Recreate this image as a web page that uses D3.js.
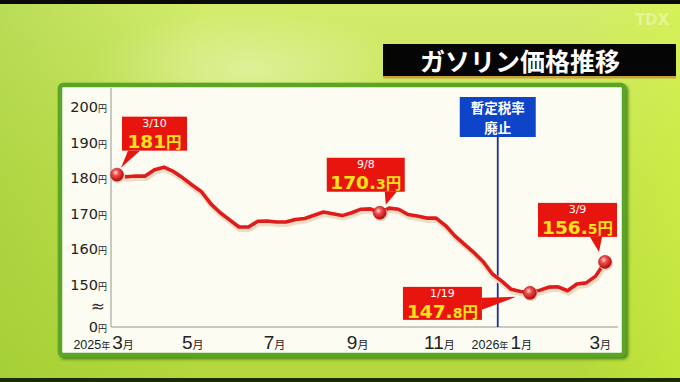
<!DOCTYPE html>
<html>
<head>
<meta charset="utf-8">
<script src="https://cdn.jsdelivr.net/npm/d3@7"></script>
<style>
  html, body { margin: 0; padding: 0; background: #000; }
  svg { display: block; }
</style>
</head>
<body>
<div id="chart"></div>
<script>
// weekly gasoline price (yen / litre)
const startDate = new Date(2025, 2, 10);
const endDate = new Date(2026, 2, 9);
const weekValues = [
  181, 180.4, 180.6, 180.6, 182.4, 183.1, 181.9, 180.1, 178.1, 176.2,
  172.8, 170.3, 168.3, 166.3, 166.3, 167.9, 168.0, 167.7, 167.7, 168.4,
  168.7, 169.6, 170.5, 170.0, 169.5, 170.3, 171.3, 171.4, 170.3, 171.6,
  171.3, 169.8, 169.4, 168.8, 168.8, 166.7, 163.8, 161.5, 159.2, 156.6,
  153.1, 151.1, 148.8, 148.2, 147.8, 148.5, 149.4, 149.5, 148.4, 150.3,
  150.6, 152.5, 156.5
];

// y ticks (0 is below the axis break)
const yTicks = [0, 150, 160, 170, 180, 190, 200];

// x tick labels
const monthTicks = [
  { date: new Date(2025, 2, 10), month: "3", year: "2025" },
  { date: new Date(2025, 4, 1), month: "5" },
  { date: new Date(2025, 6, 1), month: "7" },
  { date: new Date(2025, 8, 1), month: "9" },
  { date: new Date(2025, 10, 1), month: "11" },
  { date: new Date(2026, 0, 1), month: "1", year: "2026" },
  { date: new Date(2026, 2, 1), month: "3" }
];

// callouts
const callouts = [
  { i: 0, label: "3/10", price: "181" },
  { i: 28, label: "9/8", price: "170.3" },
  { i: 44, label: "1/19", price: "147.8" },
  { i: 52, label: "3/9", price: "156.5" }
];

const markerDate = new Date(2025, 11, 19);
const markerText = ["暫定税率", "廃止"];
const title = "ガソリン価格推移";

// callout box placement relative to its point (layout only)
const calloutLayout = [
  { bx: 5, by: -58, w: 65, h: 34, tail: [[11, -24], [23, -24], [4, -7]] },
  { bx: -53, by: -55, w: 78, h: 34, tail: [[5, -21], [17, -21], [6, -8]] },
  { bx: -127, by: -6, w: 79, h: 33, tail: [[-48, 5], [-48, 17], [-14, 4]] },
  { bx: -67, by: -59, w: 79, h: 34, tail: [[-15, -25], [-3, -25], [-6, -10]] }
];

const width = 680;
const height = 382;

const svg = d3.select("#chart").append("svg")
  .attr("width", width)
  .attr("height", height);

const defs = svg.append("defs");

const bg = defs.append("linearGradient").attr("id", "bg")
  .attr("x1", 0).attr("y1", 0).attr("x2", 0).attr("y2", 1);
bg.append("stop").attr("offset", "0%").attr("stop-color", "#d3ec6e");
bg.append("stop").attr("offset", "45%").attr("stop-color", "#c3e24e");
bg.append("stop").attr("offset", "100%").attr("stop-color", "#b3d83a");

const bgSide = defs.append("linearGradient").attr("id", "bgSide")
  .attr("x1", 0).attr("y1", 0).attr("x2", 1).attr("y2", 0);
bgSide.append("stop").attr("offset", "0%").attr("stop-color", "#8cbf30").attr("stop-opacity", 0.35);
bgSide.append("stop").attr("offset", "30%").attr("stop-color", "#8cbf30").attr("stop-opacity", 0);
bgSide.append("stop").attr("offset", "85%").attr("stop-color", "#d8f83a").attr("stop-opacity", 0);
bgSide.append("stop").attr("offset", "100%").attr("stop-color", "#d8f83a").attr("stop-opacity", 0.4);

const glow = defs.append("radialGradient").attr("id", "glow");
glow.append("stop").attr("offset", "0%").attr("stop-color", "#ffffff").attr("stop-opacity", 0.35);
glow.append("stop").attr("offset", "100%").attr("stop-color", "#ffffff").attr("stop-opacity", 0);

const ball = defs.append("radialGradient").attr("id", "ball")
  .attr("cx", "40%").attr("cy", "35%").attr("r", "65%");
ball.append("stop").attr("offset", "0%").attr("stop-color", "#ffe4e4");
ball.append("stop").attr("offset", "35%").attr("stop-color", "#f05050");
ball.append("stop").attr("offset", "100%").attr("stop-color", "#b80808");

const shadow = defs.append("filter").attr("id", "shadow")
  .attr("x", "-5%").attr("y", "-5%").attr("width", "110%").attr("height", "115%");
shadow.append("feDropShadow").attr("dx", 2).attr("dy", 2)
  .attr("stdDeviation", 1.5).attr("flood-color", "#2f6a0c").attr("flood-opacity", 0.8);

// background
svg.append("rect").attr("width", width).attr("height", height).attr("fill", "url(#bg)");
svg.append("rect").attr("width", width).attr("height", height).attr("fill", "url(#bgSide)");
svg.append("ellipse").attr("cx", 250).attr("cy", 70).attr("rx", 160).attr("ry", 60)
  .attr("fill", "url(#glow)");
svg.append("rect").attr("width", width).attr("height", 4).attr("fill", "#0a0a0a");
svg.append("rect").attr("y", 378).attr("width", width).attr("height", 4).attr("fill", "#1a2a08");

svg.append("text")
  .attr("x", 652).attr("y", 25)
  .attr("text-anchor", "middle")
  .attr("font-family", "DejaVu Sans")
  .attr("font-weight", "bold")
  .attr("font-size", 15)
  .attr("fill", "#ffffff")
  .attr("opacity", 0.35)
  .text("TDX");

// title
svg.append("rect").attr("x", 383).attr("y", 44).attr("width", 293).attr("height", 33)
  .attr("fill", "#050505");
svg.append("rect").attr("x", 383).attr("y", 76).attr("width", 293).attr("height", 2.5)
  .attr("fill", "#c9a23c");
svg.append("text")
  .attr("x", 420).attr("y", 71)
  .attr("font-family", "Noto Sans CJK JP")
  .attr("font-weight", "bold")
  .attr("font-size", 25)
  .attr("fill", "#ffffff")
  .text(title);

// panel
svg.append("rect")
  .attr("x", 60).attr("y", 85).attr("width", 564).attr("height", 270)
  .attr("rx", 3)
  .attr("fill", "#fdfcf3")
  .attr("stroke", "#5aa526")
  .attr("stroke-width", 4.5)
  .attr("filter", "url(#shadow)");

// scales
const x = d3.scaleTime().domain([startDate, endDate]).range([117, 605]);
const y = d3.scaleLinear().domain([0, 144, 200]).range([327, 306.4, 107]);

const weekDates = weekValues.map((_, i) => d3.timeWeek.offset(startDate, i));
const points = weekValues.map((v, i) => ({ date: weekDates[i], value: v }));

// axes
svg.append("line")
  .attr("x1", 111).attr("x2", 111).attr("y1", 88).attr("y2", 327)
  .attr("stroke", "#b8b8b0").attr("stroke-width", 1.5);
svg.append("line")
  .attr("x1", 111).attr("x2", 618).attr("y1", 327).attr("y2", 327)
  .attr("stroke", "#b8b8b0").attr("stroke-width", 1.5);

const yLab = svg.append("g").selectAll("text")
  .data(yTicks)
  .enter()
  .append("text")
  .attr("x", 107)
  .attr("y", (d) => y(d) + 5)
  .attr("text-anchor", "end")
  .attr("font-family", "DejaVu Sans")
  .attr("fill", "#222");
yLab.append("tspan").attr("font-size", 14.5).text((d) => d);
yLab.append("tspan").attr("font-size", 9).attr("font-family", "Noto Sans CJK JP").text("円");

svg.append("text")
  .attr("x", 105).attr("y", y(144) + 6)
  .attr("text-anchor", "end")
  .attr("font-family", "DejaVu Sans")
  .attr("font-size", 17)
  .attr("fill", "#333")
  .text("≈");

const xg = svg.append("g");
monthTicks.forEach((t) => {
  const cx = x(t.date) + 6;
  const m = xg.append("text")
    .attr("x", cx).attr("y", 349)
    .attr("text-anchor", "middle")
    .attr("font-family", "Liberation Sans")
    .attr("fill", "#222");
  m.append("tspan").attr("font-size", 19).text(t.month);
  m.append("tspan").attr("font-size", 11).attr("font-family", "Noto Sans CJK JP").text("月");
  if (t.year) {
    const w = m.node().getComputedTextLength();
    const yr = xg.append("text")
      .attr("x", cx - w / 2 - 2).attr("y", 349)
      .attr("text-anchor", "end")
      .attr("font-family", "Liberation Sans")
      .attr("fill", "#222");
    yr.append("tspan").attr("font-size", 12.5).text(t.year);
    yr.append("tspan").attr("font-size", 9).attr("font-family", "Noto Sans CJK JP").text("年");
  }
});

// marker for the tax abolition
const mx = x(markerDate);
svg.append("line")
  .attr("x1", mx).attr("x2", mx).attr("y1", 136).attr("y2", 327)
  .attr("stroke", "#1b2f9c").attr("stroke-width", 1.8);
svg.append("rect")
  .attr("x", mx - 38).attr("y", 97).attr("width", 76).attr("height", 40)
  .attr("fill", "#0e45c8");
markerText.forEach((s, k) => {
  svg.append("text")
    .attr("x", mx).attr("y", 112.5 + k * 20)
    .attr("text-anchor", "middle")
    .attr("font-family", "Noto Sans CJK JP")
    .attr("font-weight", "bold")
    .attr("font-size", 13.5)
    .attr("fill", "#ffffff")
    .text(s);
});

// price line
const line = d3.line()
  .x((d) => x(d.date))
  .y((d) => y(d.value));

svg.append("path")
  .datum(points)
  .attr("d", line)
  .attr("transform", "translate(1,2)")
  .attr("fill", "none")
  .attr("stroke", "#efdcc4")
  .attr("stroke-width", 6)
  .attr("stroke-linejoin", "round");

svg.append("path")
  .datum(points)
  .attr("d", line)
  .attr("fill", "none")
  .attr("stroke", "#e01b1b")
  .attr("stroke-width", 3.6)
  .attr("stroke-linejoin", "round")
  .attr("stroke-linecap", "round");

// callouts
callouts.forEach((c, k) => {
  const lay = calloutLayout[k];
  const px = x(weekDates[c.i]);
  const py = y(weekValues[c.i]);
  const g = svg.append("g").attr("transform", `translate(${px},${py})`);

  g.append("polygon")
    .attr("points", lay.tail.map((p) => p.join(",")).join(" "))
    .attr("fill", "#e8150f");
  g.append("rect")
    .attr("x", lay.bx).attr("y", lay.by)
    .attr("width", lay.w).attr("height", lay.h)
    .attr("fill", "#e8150f");

  const mid = lay.bx + lay.w / 2;
  g.append("text")
    .attr("x", mid).attr("y", lay.by + 10.5)
    .attr("text-anchor", "middle")
    .attr("font-family", "DejaVu Sans")
    .attr("font-size", 11)
    .attr("fill", "#ffffff")
    .text(c.label);

  const parts = c.price.split(".");
  const pt = g.append("text")
    .attr("x", mid).attr("y", lay.by + 31.5)
    .attr("text-anchor", "middle")
    .attr("font-family", "DejaVu Sans")
    .attr("font-weight", "bold")
    .attr("fill", "#ffe21a");
  pt.append("tspan").attr("font-size", 18.5).text(parts[0] + (parts[1] ? "." : ""));
  if (parts[1]) pt.append("tspan").attr("font-size", 14).text(parts[1]);
  pt.append("tspan").attr("font-size", 15.5).attr("font-family", "Noto Sans CJK JP").text("円");

  g.append("circle").attr("cx", 1).attr("cy", 1.5).attr("r", 7)
    .attr("fill", "#e6d2bc");
  g.append("circle").attr("r", 6.5)
    .attr("fill", "url(#ball)")
    .attr("stroke", "#c01010").attr("stroke-width", 0.6);
});
</script>
</body>
</html>
